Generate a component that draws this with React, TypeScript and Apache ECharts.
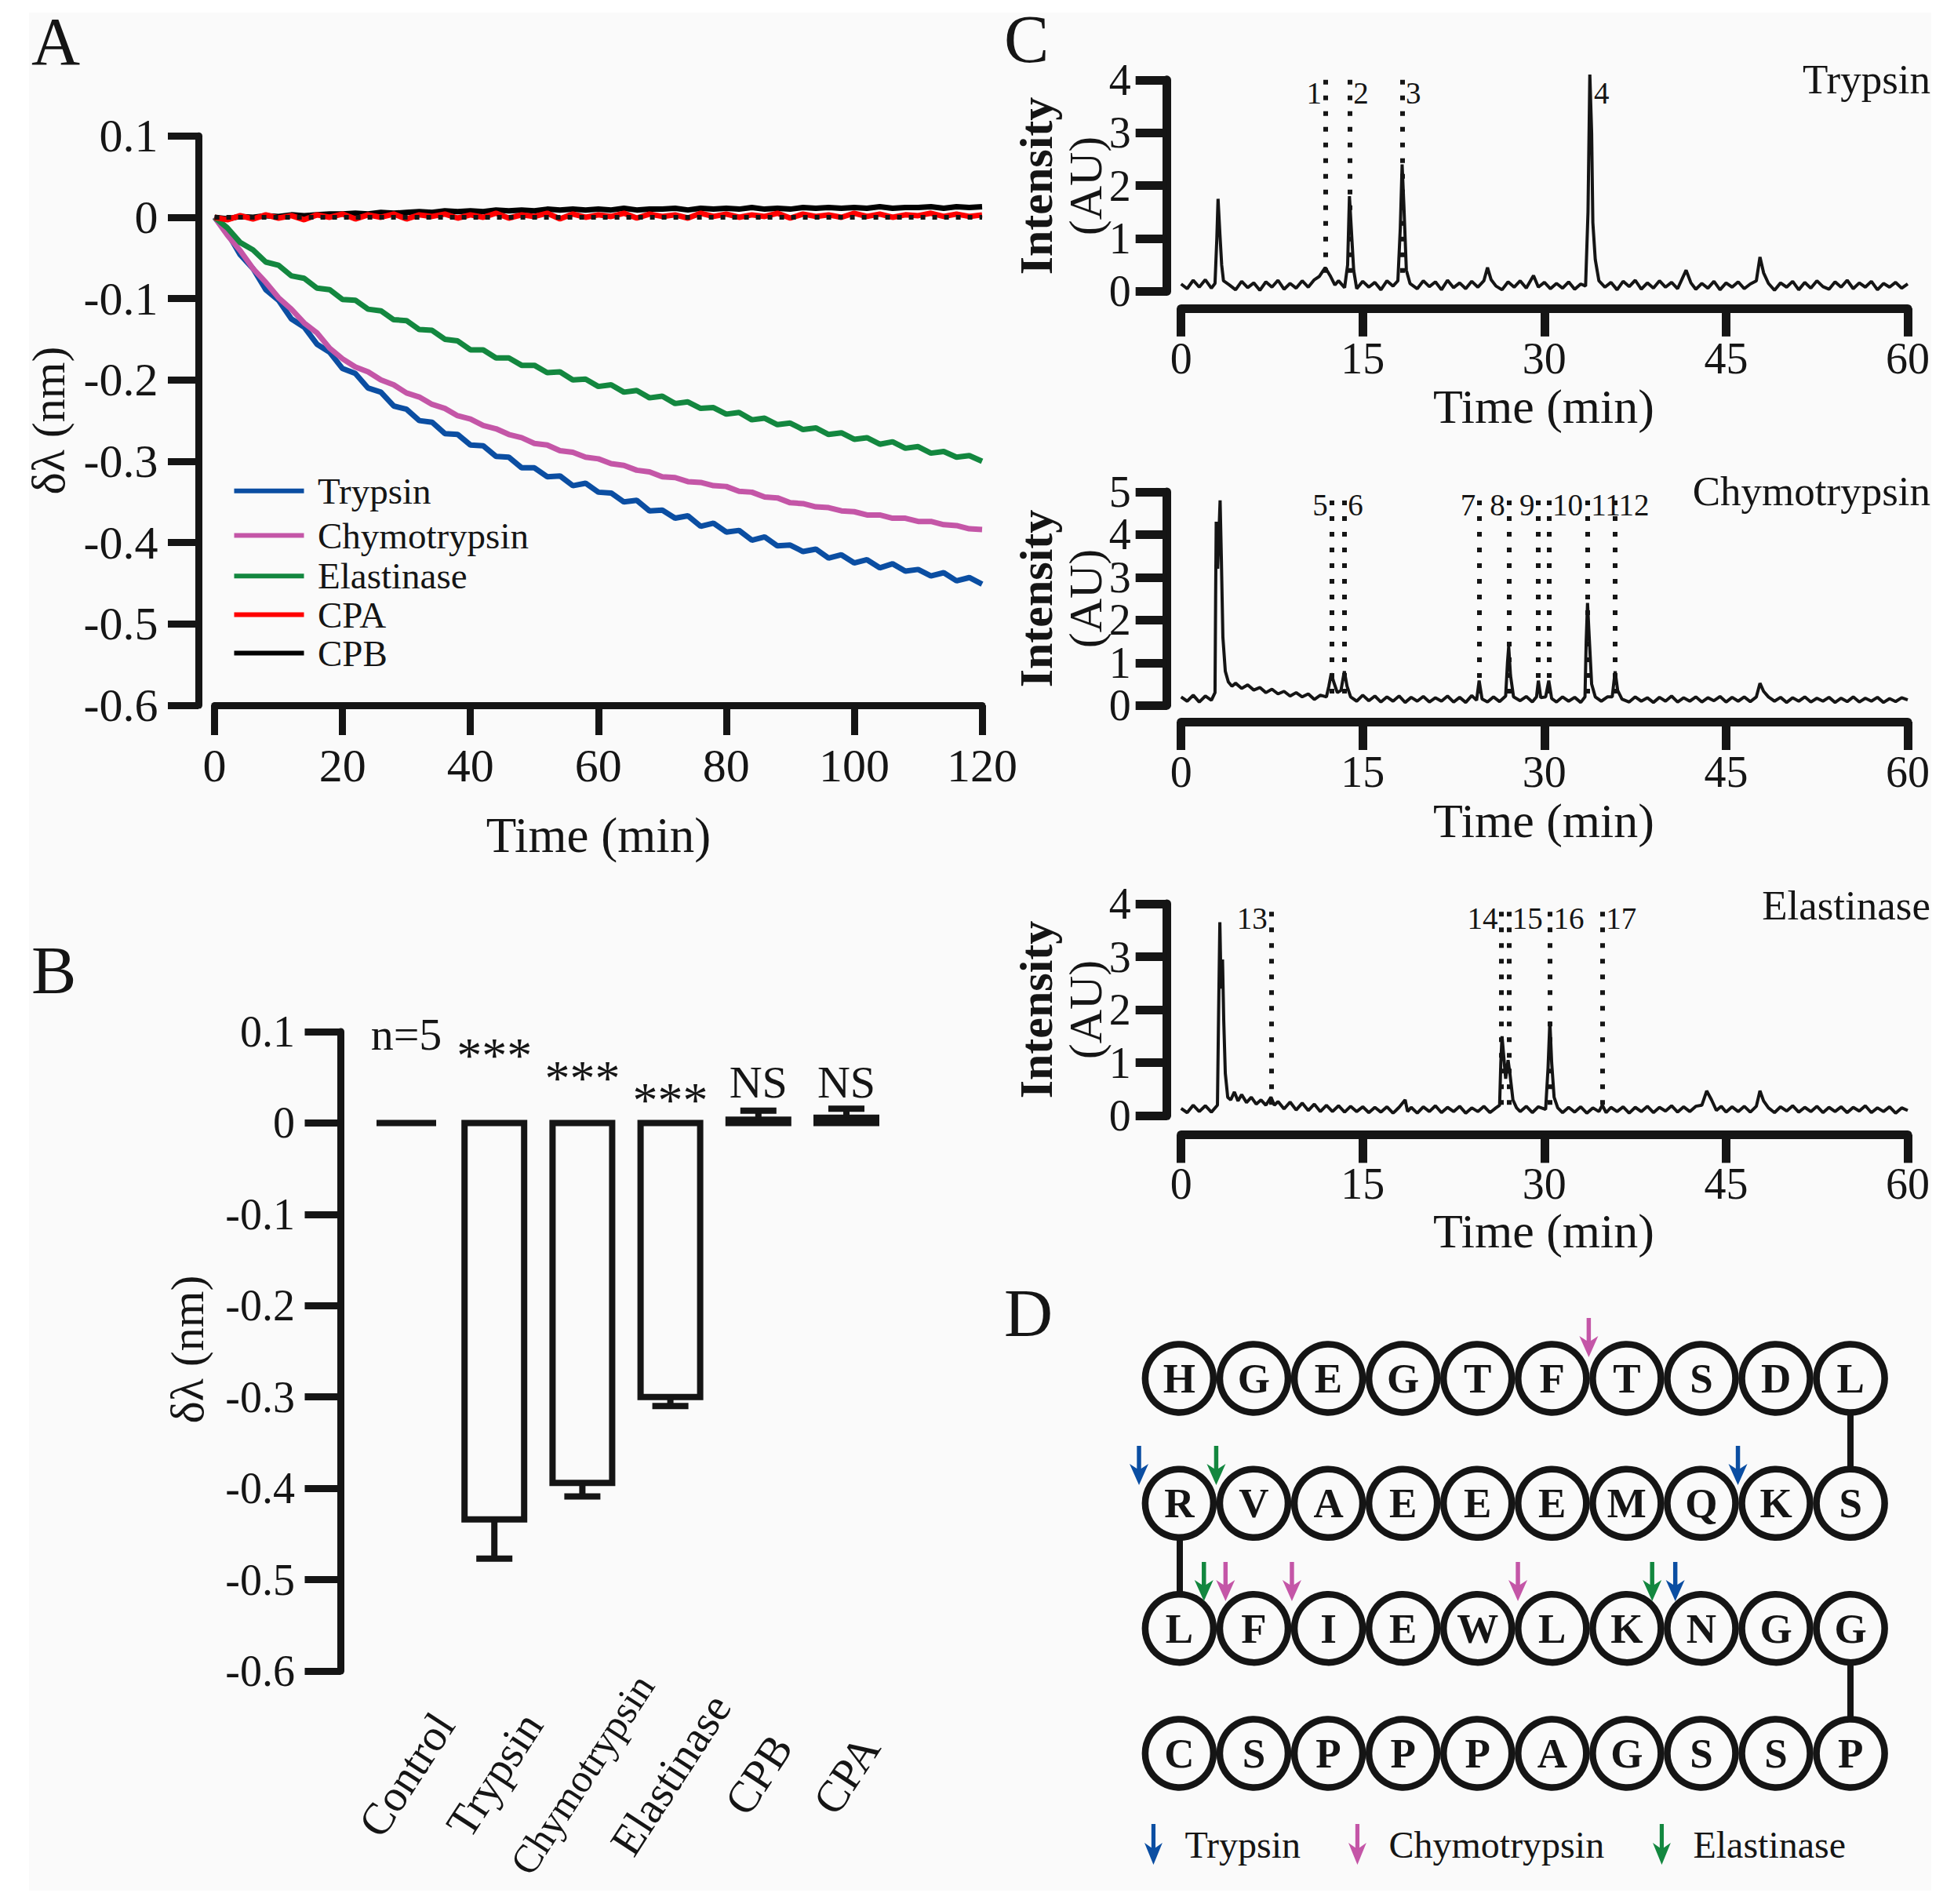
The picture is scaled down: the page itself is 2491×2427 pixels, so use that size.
import React, { useEffect, useRef } from 'react';
import * as echarts from 'echarts';

const FONT = '"Liberation Serif", "Times New Roman", Times, serif';
const INK = '#151515';
const BLUE = '#0b4ea2';
const PINK = '#c456a7';
const GREEN = '#13873f';
const RED = '#ff0000';
const PANEL_BG = '#fafafa';

// ---------- Panel A : wavelength shift vs time ----------
const TIME_A = [0, 2, 4, 6, 8, 10, 12, 14, 16, 18, 20, 22, 24, 26, 28, 30, 32, 34, 36, 38, 40, 42, 44, 46, 48, 50, 52, 54, 56, 58, 60, 62, 64, 66, 68, 70, 72, 74, 76, 78, 80, 82, 84, 86, 88, 90, 92, 94, 96, 98, 100, 102, 104, 106, 108, 110, 112, 114, 116, 118, 120];
const A_TRYPSIN = [0, -0.019, -0.046, -0.063, -0.089, -0.102, -0.125, -0.135, -0.156, -0.166, -0.186, -0.192, -0.21, -0.215, -0.232, -0.236, -0.25, -0.252, -0.266, -0.267, -0.28, -0.281, -0.294, -0.295, -0.308, -0.308, -0.319, -0.318, -0.33, -0.327, -0.338, -0.339, -0.35, -0.348, -0.361, -0.36, -0.37, -0.367, -0.38, -0.376, -0.387, -0.385, -0.397, -0.393, -0.404, -0.403, -0.411, -0.408, -0.419, -0.415, -0.425, -0.421, -0.431, -0.426, -0.435, -0.433, -0.441, -0.437, -0.447, -0.443, -0.451];
const A_CHYMO = [0, -0.022, -0.041, -0.063, -0.08, -0.099, -0.113, -0.13, -0.142, -0.161, -0.174, -0.184, -0.19, -0.2, -0.206, -0.216, -0.221, -0.23, -0.235, -0.244, -0.248, -0.256, -0.26, -0.267, -0.271, -0.278, -0.28, -0.287, -0.289, -0.295, -0.297, -0.303, -0.305, -0.311, -0.313, -0.319, -0.32, -0.325, -0.326, -0.33, -0.331, -0.337, -0.338, -0.344, -0.345, -0.351, -0.352, -0.356, -0.357, -0.361, -0.362, -0.366, -0.366, -0.37, -0.37, -0.374, -0.374, -0.378, -0.379, -0.383, -0.384];
const A_ELAST = [0, -0.013, -0.031, -0.04, -0.055, -0.059, -0.072, -0.075, -0.087, -0.089, -0.101, -0.102, -0.113, -0.115, -0.126, -0.127, -0.138, -0.139, -0.15, -0.152, -0.163, -0.163, -0.173, -0.173, -0.182, -0.182, -0.191, -0.19, -0.2, -0.199, -0.208, -0.206, -0.215, -0.213, -0.222, -0.22, -0.229, -0.227, -0.235, -0.234, -0.242, -0.24, -0.249, -0.247, -0.255, -0.253, -0.261, -0.259, -0.267, -0.265, -0.273, -0.271, -0.279, -0.276, -0.284, -0.282, -0.29, -0.288, -0.295, -0.293, -0.3];
const A_CPA = [0, -0.003, 0.002, -0.002, 0.003, -0.001, 0.002, -0.003, 0.003, 0, 0.004, -0.002, 0.003, 0, 0.004, -0.002, 0.003, 0.001, 0.004, -0.001, 0.003, 0, 0.005, -0.001, 0.003, 0.001, 0.005, -0.002, 0.004, 0, 0.003, 0.001, 0.005, -0.001, 0.004, 0.001, 0.003, -0.001, 0.005, 0.001, 0.004, 0, 0.003, 0.001, 0.005, -0.001, 0.004, 0.001, 0.003, 0, 0.005, 0.001, 0.004, 0, 0.003, 0.002, 0.005, 0.001, 0.004, 0.001, 0.003];
const A_CPB = [0, -0.002, 0.001, 0, 0.002, 0.001, 0.003, 0.002, 0.003, 0.004, 0.004, 0.005, 0.004, 0.006, 0.005, 0.006, 0.007, 0.006, 0.008, 0.007, 0.008, 0.007, 0.009, 0.008, 0.009, 0.008, 0.01, 0.009, 0.01, 0.009, 0.01, 0.009, 0.011, 0.009, 0.01, 0.01, 0.011, 0.009, 0.011, 0.01, 0.011, 0.01, 0.012, 0.01, 0.011, 0.01, 0.012, 0.011, 0.012, 0.011, 0.012, 0.011, 0.013, 0.011, 0.012, 0.012, 0.013, 0.011, 0.013, 0.012, 0.013];
const A_SERIES = [
  { name: 'Trypsin', values: A_TRYPSIN, color: BLUE },
  { name: 'Chymotrypsin', values: A_CHYMO, color: PINK },
  { name: 'Elastinase', values: A_ELAST, color: GREEN },
  { name: 'CPB', values: A_CPB, color: '#000000' },
  { name: 'CPA', values: A_CPA, color: RED },
];
const A_LEGEND_ORDER = ['Trypsin', 'Chymotrypsin', 'Elastinase', 'CPA', 'CPB'];
const A_LEGEND_COLORS = [BLUE, PINK, GREEN, RED, '#000000'];

// ---------- Panel B : end-point shift ----------
const B_CATEGORIES = ['Control', 'Trypsin', 'Chymotrypsin', 'Elastinase', 'CPB', 'CPA'];
const B_MEAN = [0, -0.434, -0.394, -0.3, 0.0035, 0.0057];
const B_ERR = [0, 0.043, 0.015, 0.01, 0.01, 0.01];
const B_MARKS = ['n=5', '***', '***', '***', 'NS', 'NS'];
const B_MARK_Y = [0.097, 0.074, 0.049, 0.025, 0.045, 0.045];

// ---------- Panel C : chromatograms [time, intensity] ----------
const C_TRYPSIN = [[0, 0.14], [0.5, 0.05], [1, 0.21], [1.5, 0.08], [2, 0.22], [2.5, 0.06], [2.8, 0.15], [2.95, 1.0], [3.05, 1.75], [3.2, 1.1], [3.35, 0.5], [3.5, 0.2], [4, 0.12], [4.5, 0.03], [5, 0.19], [5.5, 0.07], [6, 0.16], [6.5, 0.02], [7, 0.18], [7.5, 0.08], [8, 0.21], [8.5, 0.04], [9, 0.15], [9.5, 0.06], [10, 0.2], [10.5, 0.08], [11, 0.22], [11.4, 0.28], [11.9, 0.45], [12.3, 0.3], [12.7, 0.12], [13, 0.2], [13.5, 0.07], [13.75, 0.5], [13.9, 1.8], [14.05, 1.2], [14.25, 0.4], [14.5, 0.05], [15, 0.19], [15.5, 0.08], [16, 0.17], [16.5, 0.03], [17, 0.2], [17.5, 0.1], [17.9, 0.2], [18.1, 1.2], [18.25, 2.4], [18.4, 1.6], [18.6, 0.4], [18.9, 0.15], [19.5, 0.05], [20, 0.2], [20.5, 0.09], [21, 0.18], [21.5, 0.03], [22, 0.21], [22.5, 0.07], [23, 0.16], [23.5, 0.05], [24, 0.19], [24.5, 0.08], [25, 0.2], [25.3, 0.45], [25.6, 0.22], [26, 0.1], [26.5, 0.03], [27, 0.18], [27.5, 0.08], [28, 0.2], [28.5, 0.06], [29.1, 0.3], [29.5, 0.08], [30, 0.17], [30.5, 0.05], [31, 0.15], [31.5, 0.06], [32, 0.18], [32.5, 0.04], [33, 0.14], [33.4, 0.1], [33.6, 1.5], [33.75, 4.1], [33.9, 3.0], [34.0, 1.3], [34.2, 0.6], [34.5, 0.2], [35, 0.08], [35.5, 0.17], [36, 0.03], [36.5, 0.19], [37, 0.09], [37.5, 0.21], [38, 0.04], [38.5, 0.16], [39, 0.06], [39.5, 0.2], [40, 0.08], [40.5, 0.17], [41, 0.05], [41.7, 0.4], [42.1, 0.16], [42.5, 0.04], [43, 0.15], [43.5, 0.06], [44, 0.19], [44.5, 0.03], [45, 0.16], [45.5, 0.08], [46, 0.18], [46.5, 0.05], [47, 0.14], [47.5, 0.2], [47.8, 0.65], [48.1, 0.35], [48.5, 0.15], [49, 0.02], [49.5, 0.16], [50, 0.08], [50.5, 0.19], [51, 0.03], [51.5, 0.17], [52, 0.06], [52.5, 0.2], [53, 0.09], [53.5, 0.04], [54, 0.18], [54.5, 0.08], [55, 0.21], [55.5, 0.05], [56, 0.16], [56.5, 0.08], [57, 0.19], [57.5, 0.03], [58, 0.15], [58.5, 0.08], [59, 0.17], [59.5, 0.06], [60, 0.14]];
const C_CHYMO = [[0, 0.2], [0.5, 0.1], [1, 0.24], [1.5, 0.08], [2, 0.22], [2.5, 0.12], [2.8, 0.3], [2.85, 2.5], [2.9, 4.3], [3.02, 3.2], [3.12, 4.0], [3.22, 4.8], [3.32, 3.5], [3.45, 1.6], [3.65, 0.8], [3.9, 0.55], [4.2, 0.45], [4.5, 0.52], [5, 0.4], [5.5, 0.48], [6, 0.36], [6.5, 0.42], [7, 0.3], [7.5, 0.38], [8, 0.27], [8.5, 0.33], [9, 0.22], [9.5, 0.3], [10, 0.2], [10.5, 0.27], [11, 0.14], [11.5, 0.24], [12, 0.2], [12.2, 0.45], [12.4, 0.75], [12.6, 0.55], [12.9, 0.3], [13.2, 0.35], [13.48, 0.8], [13.7, 0.45], [14, 0.2], [14.5, 0.1], [15, 0.24], [15.5, 0.11], [16, 0.22], [16.5, 0.08], [17, 0.2], [17.5, 0.1], [18, 0.22], [18.5, 0.07], [19, 0.19], [19.5, 0.1], [20, 0.21], [20.5, 0.08], [21, 0.18], [21.5, 0.1], [22, 0.22], [22.5, 0.08], [23, 0.19], [23.5, 0.07], [24, 0.23], [24.4, 0.12], [24.61, 0.58], [24.85, 0.15], [25.3, 0.08], [25.8, 0.2], [26.3, 0.09], [26.8, 0.22], [26.95, 1.0], [27.05, 1.38], [27.2, 0.7], [27.45, 0.2], [28, 0.11], [28.5, 0.21], [29, 0.08], [29.35, 0.2], [29.5, 0.58], [29.7, 0.18], [30.1, 0.2], [30.36, 0.58], [30.6, 0.16], [31, 0.08], [31.5, 0.2], [32, 0.1], [32.5, 0.19], [33, 0.07], [33.35, 0.2], [33.45, 1.5], [33.56, 2.4], [33.7, 1.6], [33.9, 0.5], [34.2, 0.2], [34.7, 0.1], [35.2, 0.2], [35.6, 0.2], [35.84, 0.8], [36.05, 0.35], [36.4, 0.15], [37, 0.08], [37.5, 0.2], [38, 0.1], [38.5, 0.18], [39, 0.07], [39.5, 0.19], [40, 0.1], [40.5, 0.22], [41, 0.08], [41.5, 0.18], [42, 0.1], [42.5, 0.2], [43, 0.08], [43.5, 0.18], [44, 0.11], [44.5, 0.21], [45, 0.08], [45.5, 0.19], [46, 0.1], [46.5, 0.2], [47, 0.09], [47.5, 0.2], [47.8, 0.52], [48.1, 0.33], [48.5, 0.2], [49, 0.1], [49.5, 0.19], [50, 0.07], [50.5, 0.18], [51, 0.1], [51.5, 0.2], [52, 0.08], [52.5, 0.17], [53, 0.1], [53.5, 0.19], [54, 0.07], [54.5, 0.17], [55, 0.09], [55.5, 0.2], [56, 0.08], [56.5, 0.17], [57, 0.1], [57.5, 0.19], [58, 0.07], [58.5, 0.16], [59, 0.09], [59.5, 0.18], [60, 0.13]];
const C_ELAST = [[0, 0.14], [0.5, 0.06], [1, 0.2], [1.5, 0.08], [2, 0.19], [2.5, 0.07], [3.0, 0.2], [3.1, 2.0], [3.2, 3.65], [3.3, 2.4], [3.42, 2.95], [3.52, 1.8], [3.65, 0.8], [3.85, 0.35], [4.1, 0.3], [4.4, 0.45], [4.7, 0.28], [5, 0.4], [5.4, 0.25], [5.8, 0.35], [6.2, 0.22], [6.6, 0.3], [7, 0.2], [7.42, 0.35], [7.7, 0.2], [8, 0.27], [8.5, 0.13], [9, 0.26], [9.5, 0.11], [10, 0.24], [10.5, 0.1], [11, 0.22], [11.5, 0.08], [12, 0.2], [12.5, 0.08], [13, 0.19], [13.5, 0.07], [14, 0.18], [14.5, 0.08], [15, 0.17], [15.5, 0.06], [16, 0.16], [16.5, 0.07], [17, 0.17], [17.5, 0.05], [18, 0.16], [18.5, 0.3], [18.7, 0.08], [19, 0.16], [19.5, 0.05], [20, 0.17], [20.5, 0.08], [21, 0.19], [21.5, 0.06], [22, 0.16], [22.5, 0.08], [23, 0.18], [23.5, 0.05], [24, 0.15], [24.5, 0.08], [25, 0.18], [25.5, 0.06], [26, 0.15], [26.3, 0.2], [26.4, 1.0], [26.5, 1.5], [26.65, 1.1], [26.8, 0.7], [27.0, 1.05], [27.15, 0.8], [27.4, 0.3], [27.7, 0.15], [28, 0.08], [28.5, 0.18], [29, 0.06], [29.5, 0.17], [30.1, 0.12], [30.3, 0.9], [30.45, 1.78], [30.6, 1.0], [30.8, 0.35], [31.1, 0.15], [31.5, 0.06], [32, 0.16], [32.5, 0.07], [33, 0.17], [33.5, 0.05], [34, 0.15], [34.5, 0.08], [34.78, 0.2], [35.1, 0.06], [35.5, 0.16], [36, 0.08], [36.5, 0.17], [37, 0.05], [37.5, 0.16], [38, 0.08], [38.5, 0.18], [39, 0.06], [39.5, 0.16], [40, 0.09], [40.5, 0.19], [41, 0.07], [41.5, 0.17], [42, 0.08], [42.5, 0.18], [43, 0.2], [43.4, 0.47], [43.8, 0.3], [44.2, 0.1], [44.6, 0.18], [45, 0.07], [45.5, 0.17], [46, 0.08], [46.5, 0.18], [47, 0.07], [47.5, 0.18], [47.8, 0.47], [48.1, 0.28], [48.5, 0.15], [49, 0.06], [49.5, 0.17], [50, 0.09], [50.5, 0.19], [51, 0.07], [51.5, 0.16], [52, 0.08], [52.5, 0.18], [53, 0.06], [53.5, 0.16], [54, 0.08], [54.5, 0.17], [55, 0.06], [55.5, 0.16], [56, 0.09], [56.5, 0.19], [57, 0.06], [57.5, 0.15], [58, 0.08], [58.5, 0.17], [59, 0.05], [59.5, 0.15], [60, 0.1]];

const C_TRYPSIN_PEAK_T = [11.9, 13.93, 18.25, 33.8];
const C_TRYPSIN_PEAK_N = ['1', '2', '3', '4'];
const C_TRYPSIN_CUTS = [11.9, 13.93, 18.25];
const C_CHYMO_PEAK_T = [12.41, 13.48, 24.61, 27.05, 29.49, 30.36, 33.56, 35.84];
const C_CHYMO_PEAK_N = ['5', '6', '7', '8', '9', '10', '11', '12'];
const C_ELAST_PEAK_T = [7.42, 26.45, 27.05, 30.46, 34.78];
const C_ELAST_PEAK_N = ['13', '14', '15', '16', '17'];
const C_CHYMO_TICKS_EVEN = [0, 2, 4];
const C_CHYMO_TICKS_ODD = [1, 3, 5];

// ---------- Panel D : exendin-4 sequence and cleavage sites ----------
const D_ROWS = ['HGEGTFTSDL', 'RVAEEEMQKS', 'LFIEWLKNGG', 'CSPPPAGSSP'];
const D_LINKS = [[[9, 0], [9, 1]], [[0, 1], [0, 2]], [[9, 2], [9, 3]]];
const D_CUT_TRYPSIN = [[-0.54, 0.696], [7.49, 0.696], [6.65, 1.625]];
const D_CUT_CHYMO = [[5.49, -0.326], [0.62, 1.625], [1.51, 1.625], [4.54, 1.625]];
const D_CUT_ELAST = [[0.495, 0.696], [0.33, 1.625], [6.34, 1.625]];

const ARROW = 'path://M8.5,0L13.5,0L13.5,29L22,23L11,50L0,23L8.5,29Z';
const LINE_ICON = 'path://M0,0L89,0L89,6L0,6Z';

function txt(x: number, y: number, text: string, size: number, extra: any = {}) {
  const { rotation, ...style } = extra;
  return {
    type: 'text',
    x,
    y,
    rotation: rotation || 0,
    z: 10,
    style: {
      text,
      fontSize: size,
      fontFamily: FONT,
      fill: INK,
      align: 'center',
      verticalAlign: 'middle',
      ...style,
    },
  };
}

function valueAxisStyle(lineW: number, tickLen: number, margin: number, fontSize: number) {
  return {
    axisLine: { show: true, onZero: false, lineStyle: { color: INK, width: lineW } },
    axisTick: { show: true, inside: false, length: tickLen, lineStyle: { color: INK, width: lineW } },
    axisLabel: {
      show: true, margin, fontSize, fontFamily: FONT, color: INK,
      showMinLabel: true, showMaxLabel: true,
    },
    splitLine: { show: false },
  };
}

function buildOption() {
  const grids = [
    { left: 273.6, top: 173.3, width: 978.4, height: 725.7 },
    { left: 461.9, top: 1315, width: 673.2, height: 815 },
    { left: 1505.7, top: 101.8, width: 926.3, height: 269.6 },
    { left: 1505.7, top: 627, width: 926.3, height: 272.2 },
    { left: 1505.7, top: 1152, width: 926.3, height: 270.3 },
    { left: 1408.3, top: 1597.7, width: 1045.9, height: 716.9 },
  ];

  const cX = (gi: number, offset: number, margin: number) => {
    const s = valueAxisStyle(11, 36, margin, 56);
    return {
      gridIndex: gi, type: 'value', min: 0, max: 60, interval: 15, offset,
      ...s,
      axisLabel: { ...s.axisLabel, verticalAlign: 'middle' },
    };
  };
  const cY = (gi: number, max: number) => ({
    gridIndex: gi, type: 'value', min: 0, max, interval: 1, offset: 18,
    ...valueAxisStyle(11, 40, 46, 56),
  });

  const aXs = valueAxisStyle(9, 38, 77, 60);
  const xAxis: any[] = [
    { gridIndex: 0, type: 'value', min: 0, max: 120, interval: 20, ...aXs, axisLabel: { ...aXs.axisLabel, verticalAlign: 'middle' } },
    {
      gridIndex: 1, type: 'category', data: B_CATEGORIES, boundaryGap: true,
      axisLine: { show: false }, axisTick: { show: false }, splitLine: { show: false },
      axisLabel: {
        interval: 0, rotate: 57, align: 'center', verticalAlign: 'middle', margin: 132,
        fontSize: 57, fontFamily: FONT, color: INK,
        formatter: (v: string) => (v === 'Chymotrypsin' ? '{s|' + v + '}' : v),
        rich: { s: { fontSize: 51, fontFamily: FONT, color: INK } },
      },
    },
    cX(2, 21.5, 64),
    cX(3, 20.8, 64),
    cX(4, 24, 62.6),
    { gridIndex: 5, type: 'value', min: -1, max: 10, show: false },
  ];

  // middle chromatogram: tick labels split over two coincident axes so that
  // the closely spaced labels are all kept
  const midS = valueAxisStyle(11, 40, 46, 56);
  const yAxis: any[] = [
    { gridIndex: 0, type: 'value', min: -0.6, max: 0.1, interval: 0.1, offset: 20.6, ...valueAxisStyle(9, 39, 51.5, 60) },
    { gridIndex: 1, type: 'value', min: -0.6, max: 0.1, interval: 0.1, offset: 27.4, ...valueAxisStyle(9, 46, 58.5, 56) },
    cY(2, 4),
    {
      gridIndex: 3, type: 'value', min: 0, max: 5, interval: 1, offset: 18,
      ...midS,
      axisLabel: { ...midS.axisLabel, customValues: C_CHYMO_TICKS_EVEN },
    },
    cY(4, 4),
    { gridIndex: 5, type: 'value', min: -1, max: 3.5, inverse: true, show: false },
    {
      gridIndex: 3, type: 'value', min: 0, max: 5, interval: 1, offset: 18, position: 'left',
      axisLine: { show: false }, axisTick: { show: false }, splitLine: { show: false },
      axisLabel: { ...midS.axisLabel, customValues: C_CHYMO_TICKS_ODD },
    },
  ];

  const series: any[] = [];

  // Panel A lines
  A_SERIES.forEach((s) => {
    const item: any = {
      type: 'line', name: s.name, xAxisIndex: 0, yAxisIndex: 0,
      data: TIME_A.map((t, i) => [t, s.values[i]]),
      showSymbol: false, symbol: 'none', color: s.color,
      lineStyle: { color: s.color, width: 7 },
      itemStyle: { color: s.color },
      z: 3,
    };
    if (s.name === 'CPB') {
      item.markLine = {
        silent: true, symbol: ['none', 'none'], label: { show: false },
        lineStyle: { color: INK, width: 6, type: [6, 9] },
        data: [{ yAxis: 0 }],
      };
    }
    series.push(item);
  });

  // Panel B bars (outline bars drawn through the axis scales) + error bars
  series.push({
    type: 'custom', name: 'shift', xAxisIndex: 1, yAxisIndex: 1,
    data: B_MEAN.map((m, i) => [i, m, B_ERR[i]]),
    z: 4,
    renderItem: (params: any, api: any) => {
      const i = api.value(0);
      const m = api.value(1);
      const e = api.value(2);
      const base = api.coord([i, 0]);
      const top = api.coord([i, m]);
      const bw = 76;
      const children: any[] = [
        {
          type: 'rect',
          shape: { x: base[0] - bw / 2, y: Math.min(base[1], top[1]), width: bw, height: Math.abs(top[1] - base[1]) },
          style: { fill: PANEL_BG, stroke: INK, lineWidth: 8 },
        },
      ];
      if (e) {
        const end = m < 0 ? m - e : m + e;
        const p1 = api.coord([i, end]);
        const hw = 23;
        children.push({ type: 'line', shape: { x1: top[0], y1: top[1], x2: p1[0], y2: p1[1] }, style: { stroke: INK, lineWidth: 8 } });
        children.push({ type: 'line', shape: { x1: p1[0] - hw, y1: p1[1], x2: p1[0] + hw, y2: p1[1] }, style: { stroke: INK, lineWidth: 8 } });
      }
      return { type: 'group', children };
    },
  });
  series.push({
    type: 'scatter', name: 'significance', xAxisIndex: 1, yAxisIndex: 1,
    data: B_MARK_Y.map((y, i) => [i, y]),
    symbolSize: 1, itemStyle: { color: 'rgba(0,0,0,0)', opacity: 1 }, z: 5,
    label: {
      show: true, position: 'inside', fontFamily: FONT, color: INK, opacity: 1,
      formatter: (p: any) => (B_MARKS[p.dataIndex] === '***' ? '{a|***}' : B_MARKS[p.dataIndex]),
      fontSize: 58, lineHeight: 44,
      rich: { a: { fontSize: 64, fontFamily: FONT, color: INK, lineHeight: 44 } },
    },
  });

  // Panel C chromatograms
  const chrom = (idx: number, data: number[][], peakT: number[], peakN: string[], sides: string[], cuts: number[], cutTop: number, labelY: number) => {
    series.push({
      type: 'line', name: 'chrom' + idx, xAxisIndex: idx, yAxisIndex: idx, data,
      showSymbol: false, symbol: 'none', clip: false,
      lineStyle: { color: INK, width: 4 }, z: 3,
      markLine: {
        silent: true, symbol: ['none', 'none'], label: { show: false },
        lineStyle: { color: INK, width: 6, type: [6, 14], cap: 'butt' },
        data: cuts.map((t) => [{ coord: [t, cutTop] }, { coord: [t, 0.15] }]),
      },
    });
    series.push({
      type: 'scatter', name: 'peaks' + idx, xAxisIndex: idx, yAxisIndex: idx,
      symbolSize: 1, itemStyle: { color: 'rgba(0,0,0,0)', opacity: 1 }, z: 5, clip: false,
      data: peakT.map((t, i) => ({ name: peakN[i], value: [t, labelY], label: { position: sides[i] } })),
      label: { show: true, formatter: '{b}', fontSize: 39, lineHeight: 32, fontFamily: FONT, color: INK, opacity: 1, distance: 4 },
    });
  };
  chrom(2, C_TRYPSIN, C_TRYPSIN_PEAK_T, C_TRYPSIN_PEAK_N, ['left', 'right', 'right', 'right'], C_TRYPSIN_CUTS, 4.0, 3.75);
  chrom(3, C_CHYMO, C_CHYMO_PEAK_T, C_CHYMO_PEAK_N, ['left', 'right', 'left', 'left', 'left', 'right', 'right', 'right'], C_CHYMO_PEAK_T, 4.8, 4.7);
  chrom(4, C_ELAST, C_ELAST_PEAK_T, C_ELAST_PEAK_N, ['left', 'left', 'right', 'right', 'right'], C_ELAST_PEAK_T, 3.85, 3.73);

  // Panel D
  series.push({
    type: 'lines', name: 'links', coordinateSystem: 'cartesian2d', xAxisIndex: 5, yAxisIndex: 5,
    data: D_LINKS.map((c) => ({ coords: c })),
    lineStyle: { color: INK, width: 8, opacity: 1 }, z: 2, silent: true,
  });
  const residues: any[] = [];
  D_ROWS.forEach((row, r) => {
    row.split('').forEach((ch, c) => residues.push([c, r, ch]));
  });
  series.push({
    type: 'scatter', name: 'residues', xAxisIndex: 5, yAxisIndex: 5, data: residues,
    symbol: 'circle', symbolSize: 87, clip: false, z: 3,
    itemStyle: { color: PANEL_BG, borderColor: INK, borderWidth: 8.5, opacity: 1 },
    label: {
      show: true, position: 'inside', formatter: (p: any) => p.value[2],
      fontSize: 53, fontWeight: 'bold', fontFamily: FONT, color: INK,
    },
  });
  [
    { name: 'Trypsin', data: D_CUT_TRYPSIN, color: BLUE },
    { name: 'Chymotrypsin', data: D_CUT_CHYMO, color: PINK },
    { name: 'Elastinase', data: D_CUT_ELAST, color: GREEN },
  ].forEach((s) => {
    series.push({
      type: 'scatter', name: s.name, xAxisIndex: 5, yAxisIndex: 5, data: s.data,
      symbol: ARROW, symbolSize: [24, 50], clip: false, z: 4,
      itemStyle: { color: s.color, opacity: 1 },
    });
  });

  // Legends
  const A_ROWS = [628.3, 685, 736.7, 786, 835];
  const legend: any[] = A_LEGEND_ORDER.map((name, i) => ({
    left: 298.5, top: A_ROWS[i] - 26, padding: 0, orient: 'horizontal', selectedMode: false,
    itemWidth: 114, itemHeight: 6,
    data: [{ name, icon: LINE_ICON, itemStyle: { color: A_LEGEND_COLORS[i], borderWidth: 0 } }],
    textStyle: { fontSize: 47, lineHeight: 40, fontFamily: FONT, color: INK },
  }));
  const D_LEG = [
    { name: 'Trypsin', left: 1459, color: BLUE },
    { name: 'Chymotrypsin', left: 1719, color: PINK },
    { name: 'Elastinase', left: 2107, color: GREEN },
  ];
  D_LEG.forEach((l) => {
    legend.push({
      left: l.left, top: 2325, padding: 0, orient: 'horizontal', selectedMode: false,
      itemWidth: 70, itemHeight: 52,
      data: [{ name: l.name, icon: ARROW, itemStyle: { color: l.color, borderWidth: 0 } }],
      textStyle: { fontSize: 48, fontFamily: FONT, color: INK },
    });
  });

  const graphic: any[] = [
    { type: 'rect', z: -10, shape: { x: 37, y: 16, width: 2425, height: 2394 }, style: { fill: PANEL_BG } },
    txt(40, 53, 'A', 86, { align: 'left' }),
    txt(40, 1237, 'B', 86, { align: 'left' }),
    txt(1280, 50, 'C', 86, { align: 'left' }),
    txt(1280, 1674, 'D', 86, { align: 'left' }),
    txt(763, 1065, 'Time (min)', 63),
    txt(62, 536, 'δλ (nm)', 60, { rotation: Math.PI / 2 }),
    txt(239, 1720, 'δλ (nm)', 60, { rotation: Math.PI / 2 }),
    txt(1968, 518, 'Time (min)', 62),
    txt(1968, 1046, 'Time (min)', 62),
    txt(1968, 1569, 'Time (min)', 62),
    txt(2461, 101, 'Trypsin', 53, { align: 'right' }),
    txt(2461, 626, 'Chymotrypsin', 53, { align: 'right' }),
    txt(2461, 1154, 'Elastinase', 53, { align: 'right' }),
  ];
  [237, 763, 1287].forEach((cy) => {
    graphic.push({
      type: 'text', x: 1352, y: cy, rotation: Math.PI / 2, z: 10,
      style: {
        text: '{b|Intensity}\n{r|(AU)}',
        align: 'center', verticalAlign: 'middle', fill: INK,
        rich: {
          b: { fontSize: 60, fontWeight: 'bold', fontFamily: FONT, fill: INK, lineHeight: 63, align: 'center' },
          r: { fontSize: 60, fontFamily: FONT, fill: INK, lineHeight: 63, align: 'center' },
        },
      },
    });
  });

  return {
    animation: false,
    backgroundColor: '#ffffff',
    textStyle: { fontFamily: FONT },
    grid: grids,
    xAxis,
    yAxis,
    legend,
    series,
    graphic,
  };
}

export default function App() {
  const ref = useRef<HTMLDivElement>(null);
  useEffect(() => {
    if (!ref.current) return;
    const chart = echarts.init(ref.current, null, { renderer: 'svg', width: 2491, height: 2427 });
    chart.setOption(buildOption() as any);
    return () => chart.dispose();
  }, []);
  return (
    <div
      ref={ref}
      style={{ position: 'absolute', left: 0, top: 0, width: 2491, height: 2427, background: '#ffffff' }}
    />
  );
}
